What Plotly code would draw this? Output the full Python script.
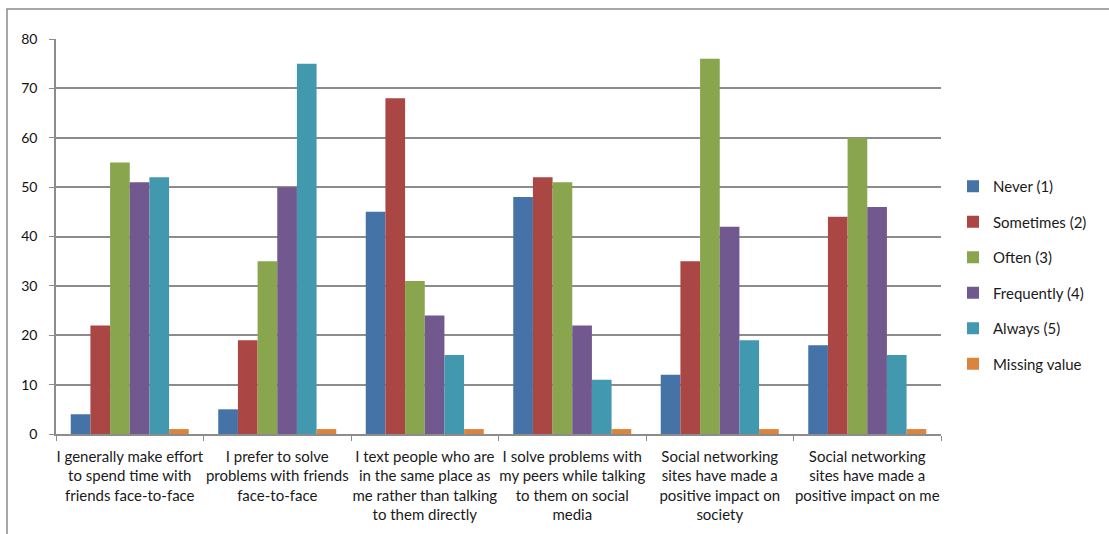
import plotly.graph_objects as go

categories = [
    "I generally make effort<br>to spend time with<br>friends face-to-face",
    "I prefer to solve<br>problems with friends<br>face-to-face",
    "I text people who are<br>in the same place as<br>me rather than talking<br>to them directly",
    "I solve problems with<br>my peers while talking<br>to them on social<br>media",
    "Social networking<br>sites have made a<br>positive impact on<br>society",
    "Social networking<br>sites have made a<br>positive impact on me",
]
series_names = ["Never (1)", "Sometimes (2)", "Often (3)", "Frequently (4)", "Always (5)", "Missing value"]
never = [4, 5, 45, 48, 12, 18]
sometimes = [22, 19, 68, 52, 35, 44]
often = [55, 35, 31, 51, 76, 60]
frequently = [51, 50, 24, 22, 42, 46]
always = [52, 75, 16, 11, 19, 16]
missing = [1, 1, 1, 1, 1, 1]
colors = ["#4572A7", "#AA4643", "#89A54E", "#71588F", "#4198AF", "#DB843D"]

series_values = [never, sometimes, often, frequently, always, missing]

fig = go.Figure()
for i, (name, vals, col) in enumerate(zip(series_names, series_values, colors)):
    fig.add_trace(go.Bar(
        x=categories, y=vals, name=name, marker_color=col,
        marker_line_width=0, legendgroup=f"g{i}",
    ))

L, R, T, B = 56, 941, 39, 434
W, H = 1109, 534
fig.update_layout(
    width=W, height=H,
    margin=dict(l=L, r=W - R, t=T, b=H - B, autoexpand=False),
    paper_bgcolor="white", plot_bgcolor="white",
    barmode="group", bargap=0.2, bargroupgap=0,
    font=dict(family="Lato, Open Sans, sans-serif", size=15, color="#1a1a1a"),
    legend=dict(
        x=(953 - L) / (R - L), y=(B - 275) / (B - T), xanchor="left", yanchor="middle",
        traceorder="grouped", tracegroupgap=13,
        font=dict(size=15), itemwidth=30, bgcolor="rgba(0,0,0,0)",
    ),
    showlegend=True,
)
fig.update_yaxes(
    range=[0, 80], dtick=10, showgrid=True, gridcolor="#8C8C8C", gridwidth=1.5,
    showline=True, linecolor="#8C8C8C", linewidth=1.5,
    ticks="outside", ticklen=5, tickcolor="#8C8C8C", tickfont=dict(size=14, color="#111"),
    ticklabelstandoff=9, zeroline=False,
)
fig.update_xaxes(
    showline=True, linecolor="#8C8C8C", linewidth=1.5,
    ticks="outside", ticklen=5, tickcolor="#8C8C8C", tickson="boundaries",
    tickfont=dict(size=15), tickangle=0, ticklabelstandoff=8,
)

# outer chart border
fig.add_shape(
    type="rect", xref="paper", yref="paper",
    x0=(7 - L) / (R - L), x1=(1120 - L) / (R - L),
    y0=(B - 545) / (B - T), y1=(B - 9) / (B - T),
    line=dict(color="#8C8C8C", width=1.5), fillcolor="rgba(0,0,0,0)", layer="below",
)

fig.write_html("out.html", config={"displayModeBar": False},
               post_script="document.body.style.margin='0';")
